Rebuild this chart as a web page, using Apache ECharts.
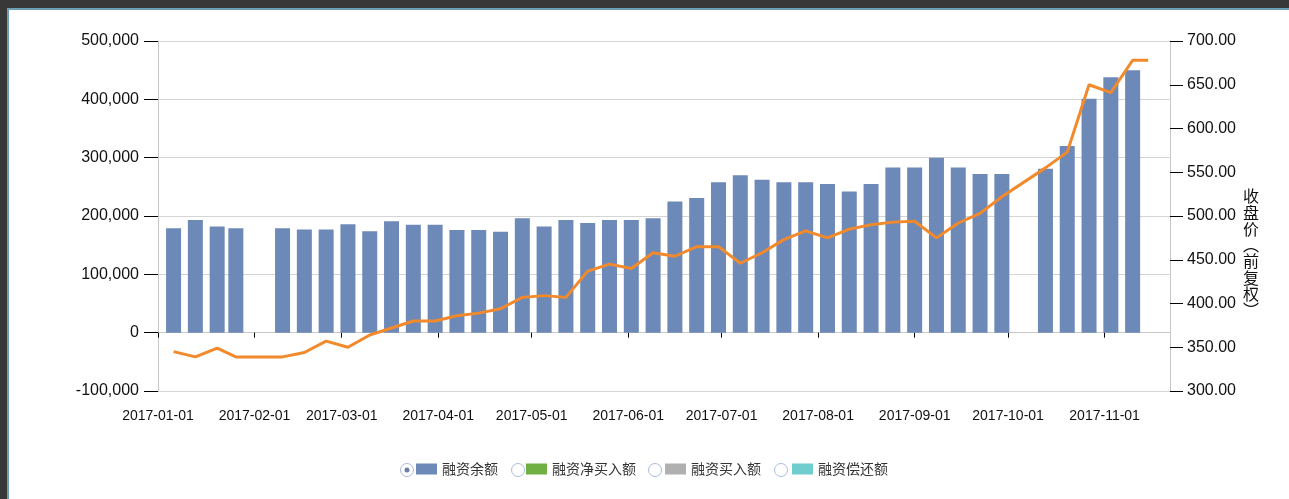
<!DOCTYPE html>
<html>
<head>
<meta charset="utf-8">
<script src="https://cdn.jsdelivr.net/npm/echarts@6/dist/echarts.min.js"></script>
<style>
html, body { margin: 0; padding: 0; width: 1289px; height: 499px; overflow: hidden; background: #383838; }
#frame { position: absolute; left: 7px; top: 8px; width: 1280px; height: 489px;
  border-left: 2px solid #6a9fb5; border-top: 2px solid #6a9fb5; background: #fff; }
#chart { width: 1280px; height: 489px; }
</style>
</head>
<body>
<div id="frame"><div id="chart"></div></div>
<script>
// month ticks on the x axis
var tickDates = ['2017-01-01', '2017-02-01', '2017-03-01', '2017-04-01', '2017-05-01', '2017-06-01',
  '2017-07-01', '2017-08-01', '2017-09-01', '2017-10-01', '2017-11-01'];

// weekly margin balance (融资余额)
var weekDates = ['2017-01-06', '2017-01-13', '2017-01-20', '2017-01-26', '2017-02-10', '2017-02-17',
  '2017-02-24', '2017-03-03', '2017-03-10', '2017-03-17', '2017-03-24', '2017-03-31', '2017-04-07',
  '2017-04-14', '2017-04-21', '2017-04-28', '2017-05-05', '2017-05-12', '2017-05-19', '2017-05-26',
  '2017-06-02', '2017-06-09', '2017-06-16', '2017-06-23', '2017-06-30', '2017-07-07', '2017-07-14',
  '2017-07-21', '2017-07-28', '2017-08-04', '2017-08-11', '2017-08-18', '2017-08-25', '2017-09-01',
  '2017-09-08', '2017-09-15', '2017-09-22', '2017-09-29', '2017-10-13', '2017-10-20', '2017-10-27',
  '2017-11-03', '2017-11-10'];
var marginBalance = [179000, 193000, 182000, 179000, 179000, 177000,
  177000, 186000, 174000, 191000, 185000, 185000, 176000,
  176000, 173000, 196000, 182000, 193000, 188000, 193000,
  193000, 196000, 225000, 231000, 258000, 270000, 262000,
  258000, 258000, 255000, 242000, 255000, 283000, 283000,
  300000, 283000, 272000, 272000, 281000, 320000, 401000,
  438000, 450000];

// closing price (收盘价, 前复权)
var priceDates = ['2017-01-06', '2017-01-13', '2017-01-20', '2017-01-26', '2017-02-10', '2017-02-17',
  '2017-02-24', '2017-03-03', '2017-03-10', '2017-03-17', '2017-03-24', '2017-03-31', '2017-04-07',
  '2017-04-14', '2017-04-21', '2017-04-28', '2017-05-05', '2017-05-12', '2017-05-19', '2017-05-26',
  '2017-06-02', '2017-06-09', '2017-06-16', '2017-06-23', '2017-06-30', '2017-07-07', '2017-07-14',
  '2017-07-21', '2017-07-28', '2017-08-04', '2017-08-11', '2017-08-18', '2017-08-25', '2017-09-01',
  '2017-09-08', '2017-09-15', '2017-09-22', '2017-09-29', '2017-10-13', '2017-10-20', '2017-10-27',
  '2017-11-03', '2017-11-10', '2017-11-15'];
var closePrice = [345, 339, 349, 339, 339, 344,
  357, 350, 364, 372, 380, 380, 386,
  389, 394, 407, 409, 407, 437, 445,
  440, 458, 454, 465, 465, 446, 458,
  473, 483, 475, 485, 490, 493, 494,
  475, 492, 503, 522, 555, 573, 650,
  641, 678, 678];

var legendNames = ['融资余额', '融资净买入额', '融资买入额', '融资偿还额'];
var priceAxisName = '收盘价︵前复权︶';

var numFont = "'Liberation Sans', Arial, sans-serif";
var cjkFont = "'Noto Sans CJK SC', sans-serif";
var barColors = ['#6d89b7', '#70b043', '#b0b0b0', '#6fcdcd'];

function toTime(d) {
  var p = d.split('-');
  return new Date(+p[0], +p[1] - 1, +p[2]).getTime();
}
var tickValues = tickDates.map(toTime);

var chart = echarts.init(document.getElementById('chart'));

// legend: one small legend per item so the radio circles can sit in front
var legendLeft = [407, 517, 656, 783];
var radioX = [398, 509, 646, 772];
var legends = legendNames.map(function (n, i) {
  return {
    data: [n], left: legendLeft[i], top: 452, padding: 0,
    icon: 'rect', itemWidth: 21, itemHeight: 11, selectedMode: false,
    textStyle: { fontSize: 14, color: '#333', fontFamily: cjkFont }
  };
});
var graphics = [];
radioX.forEach(function (x, i) {
  graphics.push({ type: 'circle', shape: { cx: x, cy: 460, r: 6.5 },
    style: { fill: '#fff', stroke: '#a9bbdc', lineWidth: 1 } });
  if (i === 0) {
    graphics.push({ type: 'circle', shape: { cx: x, cy: 460, r: 2.5 },
      style: { fill: '#6b7fa6' } });
  }
});
// vertical title of the price axis, upright characters stacked
graphics.push({
  type: 'text', left: 1234, top: 178,
  style: { text: priceAxisName.split('').join('\n'), fontSize: 16, lineHeight: 16.3,
    fill: '#111', fontFamily: cjkFont }
});

var series = legendNames.map(function (n, i) {
  return {
    name: n, type: 'bar', stack: 'rz', barWidth: 15,
    itemStyle: { color: barColors[i] },
    data: i === 0 ? weekDates.map(function (d, k) { return [toTime(d), marginBalance[k]]; }) : []
  };
});
series.push({
  name: '收盘价', type: 'line', yAxisIndex: 1, symbol: 'none', z: 5,
  lineStyle: { color: '#f28a2c', width: 3 }, itemStyle: { color: '#f28a2c' },
  data: priceDates.map(function (d, k) { return [toTime(d), closePrice[k]]; })
});

var option = {
  animation: false,
  grid: { left: 149, top: 31, width: 1012, height: 350 },
  legend: legends,
  graphic: graphics,
  xAxis: {
    type: 'value', min: toTime('2017-01-01'), max: toTime('2017-11-22'), scale: true,
    axisLine: { lineStyle: { color: '#c8c8c8' } },
    axisTick: { show: true, length: 5, customValues: tickValues, lineStyle: { color: '#000' } },
    axisLabel: {
      customValues: tickValues, fontSize: 14, color: '#111', fontFamily: numFont, margin: 18,
      formatter: function (v) { return echarts.time.format(v, '{yyyy}-{MM}-{dd}', false); }
    },
    splitLine: { show: false }
  },
  yAxis: [
    {
      type: 'value', min: -100000, max: 500000, interval: 100000, position: 'left',
      axisLine: { show: true, lineStyle: { color: '#c8c8c8' } },
      axisTick: { show: true, length: 14, lineStyle: { color: '#000' } },
      axisLabel: { fontSize: 16, color: '#111', fontFamily: numFont, margin: 19,
        formatter: function (v) { return v.toLocaleString('en-US'); } },
      splitLine: { lineStyle: { color: '#d4d4d4' } }
    },
    {
      type: 'value', min: 300, max: 700, interval: 50, position: 'right',
      axisLine: { show: true, lineStyle: { color: '#c8c8c8' } },
      axisTick: { show: true, length: 13, lineStyle: { color: '#000' } },
      axisLabel: { fontSize: 16, color: '#111', fontFamily: numFont, margin: 17,
        formatter: function (v) { return v.toFixed(2); } },
      splitLine: { show: false }
    }
  ],
  series: series
};
chart.setOption(option);
</script>
</body>
</html>
